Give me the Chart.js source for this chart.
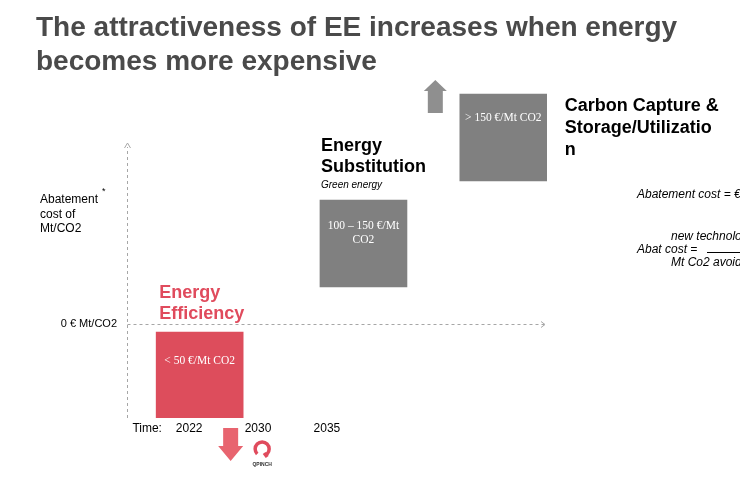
<!DOCTYPE html>
<html>
<head>
<meta charset="utf-8">
<script src="https://cdn.jsdelivr.net/npm/chart.js@4.4.0/dist/chart.umd.min.js"></script>
<style>
  body { margin: 0; width: 740px; height: 480px; overflow: hidden; position: relative; background: #fff; font-family: "Liberation Sans", Arial, sans-serif; }
  #wrap { position: absolute; left: 0; top: 0; width: 740px; height: 480px; }
  .t { position: absolute; white-space: nowrap; }
  #title { left: 36px; top: 10px; font-size: 28px; font-weight: bold; color: #4a4a4a; line-height: 34px; }
  #ylab { left: 40px; top: 192px; font-size: 12px; line-height: 14.5px; color: #000; }
  #ylab sup { position: absolute; left: 62px; top: -8px; font-size: 9px; }
  .f { font-size: 12px; font-style: italic; color: #000; line-height: 13px; }
</style>
</head>
<body>
<div id="wrap"><canvas id="chart"></canvas></div>
<div id="title" class="t">The attractiveness of EE increases when energy<br>becomes more expensive</div>
<div id="ylab" class="t">Abatement<sup>*</sup><br>cost of<br>Mt/CO2</div>
<div class="t f" style="left:637px;top:188px">Abatement cost = €/Mt CO2</div>
<div class="t f" style="left:671px;top:230px">new technology cost</div>
<div class="t f" style="left:637px;top:243px">Abat cost =</div>
<div class="t" style="left:707px;top:252px;width:60px;border-top:1px solid #000"></div>
<div class="t f" style="left:671px;top:256px">Mt Co2 avoided</div>
<script>
// --- DATOS ---
const categorias = ["Energy Efficiency", "Energy Substitution", "Carbon Capture & Storage/Utilization"];
const posicionX = [17.3, 56.3, 89.6];           // posición en la línea de tiempo (0-100)
const costoBajo = [-94, 37, 143];               // rango vertical de cada bloque (índice de costo)
const costoAlto = [-8, 124, 230];
const etiquetasCosto = [["< 50 €/Mt CO2"], ["100 – 150 €/Mt", "CO2"], ["> 150 €/Mt CO2"]];
const timeLabels = ["Time:", "2022", "2030", "2035"];
const timeTicks = [4.8, 14.8, 31.2, 47.6];
const zeroLabel = "0 € Mt/CO2";
const ejeTope = 181;

const rojo = "#dd4d5c";
const gris = "#808080";

// --- DIBUJO DE EJES, FLECHAS Y TEXTOS ---
const decoraciones = {
  id: "decoraciones",
  afterDatasetsDraw(chart) {
    const { ctx, chartArea, scales } = chart;
    const bars = chart.getDatasetMeta(0).data;
    const caja = i => {
      const b = bars[i];
      return { l: b.x - b.width / 2, r: b.x + b.width / 2, t: Math.min(b.y, b.base), b: Math.max(b.y, b.base), cx: b.x };
    };
    ctx.save();

    // ejes punteados
    const y0 = Math.round(scales.y.getPixelForValue(0)) + 0.5;
    const yTop = scales.y.getPixelForValue(ejeTope);
    const xL = Math.round(chartArea.left) + 0.5;
    ctx.strokeStyle = "#a6a6a6";
    ctx.lineWidth = 1;
    ctx.setLineDash([3, 3]);
    ctx.beginPath();
    ctx.moveTo(xL, chartArea.bottom);
    ctx.lineTo(xL, yTop + 4);
    ctx.moveTo(xL, y0);
    ctx.lineTo(chartArea.right - 3, y0);
    ctx.stroke();
    ctx.setLineDash([]);
    ctx.beginPath();
    ctx.moveTo(xL - 3, yTop + 5); ctx.lineTo(xL, yTop); ctx.lineTo(xL + 3, yTop + 5);
    ctx.moveTo(chartArea.right - 6, y0 - 3); ctx.lineTo(chartArea.right - 2, y0); ctx.lineTo(chartArea.right - 6, y0 + 3);
    ctx.stroke();

    // textos dentro de los bloques
    ctx.fillStyle = "#fff";
    ctx.font = "11.5px 'Liberation Serif', 'Times New Roman', serif";
    ctx.textAlign = "center";
    ctx.textBaseline = "middle";
    const offs = [29, 26, 24];
    etiquetasCosto.forEach((lineas, i) => {
      const c = caja(i);
      lineas.forEach((txt, j) => ctx.fillText(txt, c.cx, c.t + offs[i] + j * 14));
    });

    // títulos de cada bloque
    ctx.textAlign = "left";
    ctx.font = "bold 18px 'Liberation Sans', Arial, sans-serif";
    let c = caja(0);
    ctx.fillStyle = "#e04b5d";
    ctx.fillText("Energy", c.l + 3, c.t - 39);
    ctx.fillText("Efficiency", c.l + 3, c.t - 18);
    c = caja(1);
    ctx.fillStyle = "#000";
    ctx.fillText("Energy", c.l + 1, c.t - 54);
    ctx.fillText("Substitution", c.l + 1, c.t - 33);
    ctx.font = "italic 10px 'Liberation Sans', Arial, sans-serif";
    ctx.fillText("Green energy", c.l + 1, c.t - 15);
    c = caja(2);
    ctx.font = "bold 18px 'Liberation Sans', Arial, sans-serif";
    ["Carbon Capture &", "Storage/Utilizatio", "n"].forEach((txt, j) => ctx.fillText(txt, c.r + 18, c.t + 12 + j * 22));

    // flecha hacia arriba (gris)
    c = caja(2);
    let ar = c.l - 13, al = ar - 23, at = chartArea.top;
    ctx.fillStyle = "#8f8f8f";
    ctx.beginPath();
    ctx.moveTo((al + ar) / 2, at);
    ctx.lineTo(ar, at + 11); ctx.lineTo(ar - 4, at + 11); ctx.lineTo(ar - 4, c.t + 19);
    ctx.lineTo(al + 4, c.t + 19); ctx.lineTo(al + 4, at + 11); ctx.lineTo(al, at + 11);
    ctx.closePath();
    ctx.fill();

    // flecha hacia abajo (roja)
    c = caja(0);
    ar = c.r; al = ar - 25; at = c.b + 10;
    ctx.fillStyle = "#e8646f";
    ctx.beginPath();
    ctx.moveTo(al + 5, at); ctx.lineTo(ar - 5, at); ctx.lineTo(ar - 5, at + 18);
    ctx.lineTo(ar, at + 18); ctx.lineTo((al + ar) / 2, at + 33); ctx.lineTo(al, at + 18);
    ctx.lineTo(al + 5, at + 18);
    ctx.closePath();
    ctx.fill();

    // logo
    const lx = ar + 19, ly = at + 21;
    ctx.strokeStyle = "#e04b5d";
    ctx.lineWidth = 3.5;
    ctx.beginPath();
    ctx.arc(lx, ly, 7, 0.75 * Math.PI, 0.3 * Math.PI);
    ctx.stroke();
    ctx.beginPath();
    ctx.moveTo(lx + 2, ly + 4); ctx.lineTo(lx + 5, ly + 8);
    ctx.stroke();
    ctx.fillStyle = "#333";
    ctx.font = "bold 5px 'Liberation Sans', Arial, sans-serif";
    ctx.textAlign = "center";
    ctx.fillText("QPINCH", lx, ly + 16);

    ctx.restore();
  }
};

new Chart(document.getElementById("chart"), {
  type: "bar",
  data: {
    labels: categorias,
    datasets: [{
      data: posicionX.map((x, i) => ({ x: x, y: [costoBajo[i], costoAlto[i]] })),
      backgroundColor: [rojo, gris, gris],
      borderWidth: 0,
      borderSkipped: false,
      barThickness: 87
    }]
  },
  options: {
    responsive: true,
    maintainAspectRatio: false,
    animation: false,
    devicePixelRatio: 1,
    layout: { padding: { top: 80, right: 193, bottom: 0, left: 0 } },
    plugins: { legend: { display: false }, tooltip: { enabled: false } },
    scales: {
      x: {
        type: "linear", min: 0, max: 100, offset: false,
        grid: { display: false, drawTicks: false }, border: { display: false },
        afterBuildTicks: s => { s.ticks = timeTicks.map(v => ({ value: v })); },
        afterFit: s => { s.height = 62; },
        ticks: {
          autoSkip: false, maxRotation: 0, padding: 3, color: "#000",
          font: { family: "'Liberation Sans', Arial, sans-serif", size: 12 },
          callback: (v, i) => timeLabels[i]
        }
      },
      y: {
        min: -94, max: 244,
        grid: { display: false, drawTicks: false }, border: { display: false },
        afterBuildTicks: s => { s.ticks = [{ value: 0 }]; },
        afterFit: s => { s.width = 127; },
        ticks: {
          padding: 10, color: "#000",
          font: { family: "'Liberation Sans', Arial, sans-serif", size: 11 },
          callback: v => (v === 0 ? zeroLabel : "")
        }
      }
    }
  },
  plugins: [decoraciones]
});
</script>
</body>
</html>
